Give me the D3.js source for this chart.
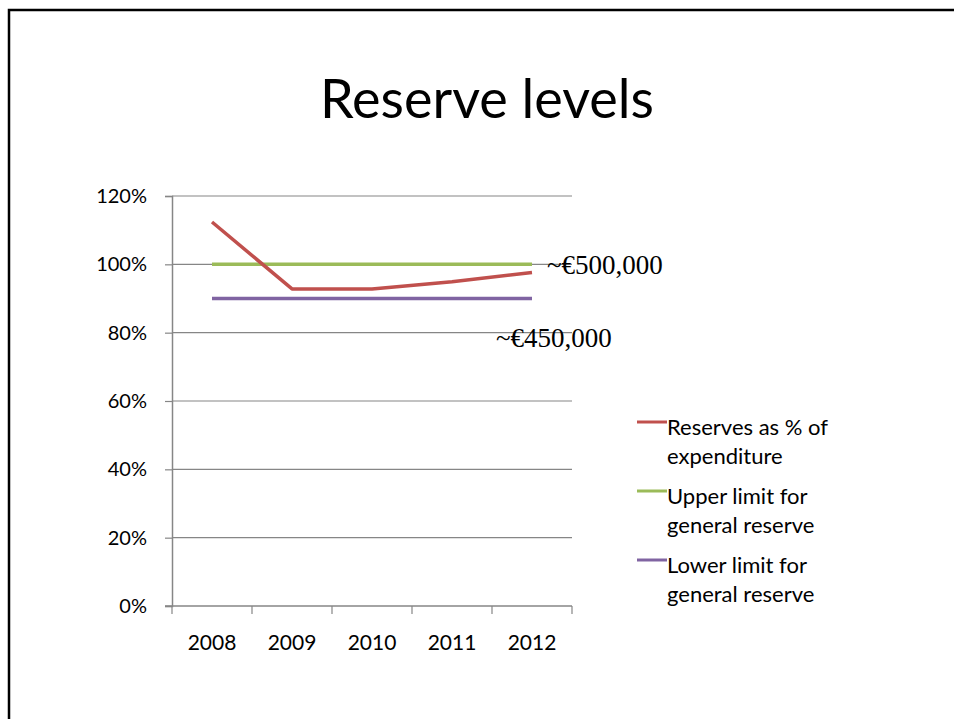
<!DOCTYPE html>
<html>
<head>
<meta charset="utf-8">
<script src="https://cdn.jsdelivr.net/npm/d3@7"></script>
<style>
  body { margin: 0; background: #fff; }
</style>
</head>
<body>
<script>
// chart data
var years = ["2008", "2009", "2010", "2011", "2012"];
var reserves = [1.124, 0.928, 0.928, 0.949, 0.976];
var upperLimit = [1.0, 1.0, 1.0, 1.0, 1.0];
var lowerLimit = [0.9, 0.9, 0.9, 0.9, 0.9];
var yTicks = [0, 0.2, 0.4, 0.6, 0.8, 1.0, 1.2];
var seriesNames = [["Reserves as % of", "expenditure"], ["Upper limit for", "general reserve"], ["Lower limit for", "general reserve"]];
var seriesColors = ["#c0504d", "#9bbb59", "#8064a2"];

var sans = "Lato, 'Open Sans', sans-serif";
var width = 954, height = 719;
var svg = d3.select("body").append("svg")
    .attr("width", width)
    .attr("height", height)
    .style("font-family", sans);

// slide frame
svg.append("path")
    .attr("d", "M9,719 V10 H954")
    .attr("fill", "none")
    .attr("stroke", "#000")
    .attr("stroke-width", 2.5);

svg.append("text")
    .attr("x", 487)
    .attr("y", 118)
    .attr("text-anchor", "middle")
    .attr("font-size", 54)
    .text("Reserve levels");

var x = d3.scaleBand().domain(years).range([172, 572]);
var y = d3.scaleLinear().domain([0, 1.2]).range([606, 196]);

// gridlines
svg.append("g")
    .selectAll("line")
    .data(yTicks.slice(1))
    .enter().append("line")
    .attr("x1", 172).attr("x2", 572)
    .attr("y1", d => y(d)).attr("y2", d => y(d))
    .attr("stroke", "#868686")
    .attr("stroke-width", 1.2);

var yAxis = svg.append("g")
    .attr("transform", "translate(172,0)")
    .call(d3.axisLeft(y).tickValues(yTicks).tickFormat(d3.format(".0%")).tickSize(7).tickPadding(18));
yAxis.select(".domain").attr("stroke", "#868686").attr("stroke-width", 1.5);
yAxis.selectAll(".tick line").attr("stroke", "#868686").attr("stroke-width", 1.2);
yAxis.selectAll("text").attr("font-size", 20).attr("fill", "#000").attr("font-family", sans);

var xAxis = svg.append("g")
    .attr("transform", "translate(0,606)");
xAxis.append("line")
    .attr("x1", 165).attr("x2", 572)
    .attr("stroke", "#868686").attr("stroke-width", 1.5);
xAxis.selectAll(".tk")
    .data(years.concat(["end"]))
    .enter().append("line")
    .attr("x1", (d, i) => i < years.length ? x(d) : x.range()[1])
    .attr("x2", (d, i) => i < years.length ? x(d) : x.range()[1])
    .attr("y1", 0).attr("y2", 8)
    .attr("stroke", "#868686").attr("stroke-width", 1.2);
xAxis.selectAll(".lbl")
    .data(years)
    .enter().append("text")
    .attr("x", d => x(d) + x.bandwidth() / 2)
    .attr("y", 44)
    .attr("text-anchor", "middle")
    .attr("font-size", 21)
    .text(d => d);

var line = d3.line()
    .x((d, i) => x(years[i]) + x.bandwidth() / 2)
    .y(d => y(d));

[upperLimit, lowerLimit, reserves].forEach(function (s) {
    var idx = s === reserves ? 0 : (s === upperLimit ? 1 : 2);
    svg.append("path")
        .attr("d", line(s))
        .attr("fill", "none")
        .attr("stroke", seriesColors[idx])
        .attr("stroke-width", 3.5)
        .attr("stroke-linejoin", "round");
});

// annotations
svg.append("text")
    .attr("x", 547).attr("y", 274)
    .style("font-family", "'Liberation Serif', 'Times New Roman', serif")
    .attr("font-size", 27)
    .text("~€500,000");
svg.append("text")
    .attr("x", 496).attr("y", 347)
    .style("font-family", "'Liberation Serif', 'Times New Roman', serif")
    .attr("font-size", 27)
    .text("~€450,000");

// legend
var legend = svg.append("g");
var legendY = [428, 497, 566];
seriesNames.forEach(function (names, i) {
    legend.append("line")
        .attr("x1", 637).attr("x2", 667)
        .attr("y1", legendY[i] - 6).attr("y2", legendY[i] - 6)
        .attr("stroke", seriesColors[i])
        .attr("stroke-width", 3);
    names.forEach(function (n, j) {
        legend.append("text")
            .attr("x", 667)
            .attr("y", legendY[i] + 7 + j * 29)
            .attr("font-size", 22)
            .text(n);
    });
});
</script>
</body>
</html>
